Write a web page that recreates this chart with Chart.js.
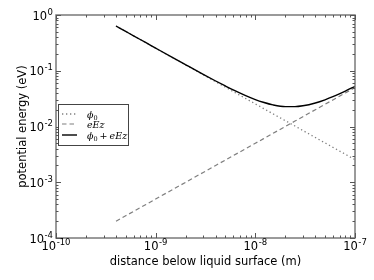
<!DOCTYPE html>
<html>
<head>
<meta charset="utf-8">
<script src="https://cdn.jsdelivr.net/npm/chart.js@4"></script>
<style>
html,body{margin:0;padding:0;background:#fff;}
#wrap{width:374px;height:280px;}
</style>
</head>
<body>
<div id="wrap"><canvas id="c" width="374" height="280"></canvas></div>
<script>
// distance below liquid surface (m)
const distance = [4e-10, 5e-10, 6e-10, 8e-10, 1e-9, 1.5e-9, 2e-9, 3e-9, 4e-9, 5e-9, 6e-9, 8e-9,
  1e-8, 1.2e-8, 1.5e-8, 2e-8, 2.5e-8, 3e-8, 4e-8, 5e-8, 6e-8, 8e-8, 1e-7];
// phi_0 (eV)
const phi0 = [0.635, 0.508, 0.423, 0.318, 0.254, 0.169, 0.127, 0.0847, 0.0635, 0.0508, 0.0423, 0.0318,
  0.0254, 0.0212, 0.0169, 0.0127, 0.0102, 0.00847, 0.00635, 0.00508, 0.00423, 0.00318, 0.00254];
// eEz (eV)
const eEz = [2.0e-4, 2.5e-4, 3.0e-4, 4.0e-4, 5.0e-4, 7.5e-4, 1.0e-3, 1.5e-3, 2.0e-3, 2.5e-3, 3.0e-3, 4.0e-3,
  5.0e-3, 6.0e-3, 7.5e-3, 0.010, 0.0125, 0.015, 0.020, 0.025, 0.030, 0.040, 0.050];
// phi_0 + eEz (eV)
const total = [0.6352, 0.5083, 0.4233, 0.3184, 0.2545, 0.1698, 0.128, 0.0862, 0.0655, 0.0533, 0.0453, 0.0358,
  0.0304, 0.0272, 0.0244, 0.0227, 0.0227, 0.0235, 0.0264, 0.0301, 0.0342, 0.0432, 0.0525];

const xTickExponents = [-10, -9, -8, -7];
const yTickExponents = [-4, -3, -2, -1, 0];
const xAxisTitle = 'distance below liquid surface (m)';
const yAxisTitle = 'potential energy (eV)';

function pts(ys){ return distance.map((x,i)=>({x:x, y:ys[i]})); }

const decorations = {
  id: 'decorations',
  afterDatasetsDraw(chart){
    const ctx = chart.ctx;
    const a = chart.chartArea;
    const xs = chart.scales.x, ys = chart.scales.y;
    ctx.save();
    // frame
    ctx.strokeStyle = '#7a7a7a';
    ctx.lineWidth = 1.5;
    ctx.strokeRect(a.left, a.top, a.right - a.left, a.bottom - a.top);
    // ticks
    ctx.strokeStyle = '#555';
    ctx.lineWidth = 1;
    ctx.beginPath();
    const xe = xTickExponents, ye = yTickExponents;
    for (let i = 0; i < xe.length; i++) {
      const muls = i < xe.length - 1 ? [1,2,3,4,5,6,7,8,9] : [1];
      muls.forEach(m => {
        const px = Math.round(xs.getPixelForValue(m * Math.pow(10, xe[i]))) + 0.5;
        const len = m === 1 ? 5 : 2.5;
        ctx.moveTo(px, a.bottom); ctx.lineTo(px, a.bottom - len);
        ctx.moveTo(px, a.top); ctx.lineTo(px, a.top + len);
      });
    }
    for (let i = 0; i < ye.length; i++) {
      const muls = i < ye.length - 1 ? [1,2,3,4,5,6,7,8,9] : [1];
      muls.forEach(m => {
        const py = Math.round(ys.getPixelForValue(m * Math.pow(10, ye[i]))) + 0.5;
        const len = m === 1 ? 5 : 2.5;
        ctx.moveTo(a.left, py); ctx.lineTo(a.left + len, py);
        ctx.moveTo(a.right, py); ctx.lineTo(a.right - len, py);
      });
    }
    ctx.stroke();

    // tick labels
    const baseFont = '11.5px "DejaVu Sans"';
    const supFont = '8.5px "DejaVu Sans"';
    ctx.fillStyle = '#000';
    ctx.textBaseline = 'alphabetic';
    function labelWidth(exp){
      ctx.font = baseFont; const w1 = ctx.measureText('10').width;
      ctx.font = supFont; const w2 = ctx.measureText('-' + Math.abs(exp)).width;
      return [w1, w2];
    }
    function drawLabel(exp, left, baseline){
      const [w1] = labelWidth(exp);
      ctx.textAlign = 'left';
      ctx.font = baseFont; ctx.fillText('10', left, baseline);
      ctx.font = supFont; ctx.fillText(exp < 0 ? '-' + Math.abs(exp) : String(exp), left + w1 + 0.5, baseline - 5);
    }
    xe.forEach(e => {
      const px = xs.getPixelForValue(Math.pow(10, e));
      const [w1, w2] = labelWidth(e);
      drawLabel(e, px - (w1 + w2 + 0.5) / 2, a.bottom + 12);
    });
    ye.forEach(e => {
      const py = ys.getPixelForValue(Math.pow(10, e));
      ctx.font = supFont;
      const s = e < 0 ? '-' + Math.abs(e) : String(e);
      const w2 = ctx.measureText(s).width;
      ctx.font = baseFont; const w1 = ctx.measureText('10').width;
      drawLabel(e, a.left - 3 - w2 - 0.5 - w1, py + 4.5);
    });

    // axis titles
    ctx.font = '11.5px "DejaVu Sans"';
    ctx.textAlign = 'center';
    ctx.fillText(xAxisTitle, (a.left + a.right) / 2, 265);
    ctx.save();
    ctx.translate(26, (a.top + a.bottom) / 2);
    ctx.rotate(-Math.PI / 2);
    ctx.fillText(yAxisTitle, 0, 0);
    ctx.restore();

    // legend
    const lx = 58, ly = 104, lw = 70, lh = 41;
    ctx.fillStyle = '#fff';
    ctx.fillRect(lx, ly, lw, lh);
    ctx.strokeStyle = '#444';
    ctx.lineWidth = 1;
    ctx.strokeRect(lx + 0.5, ly + 0.5, lw, lh);
    const rows = [
      {y: 114, ds: chart.data.datasets[1]},
      {y: 124, ds: chart.data.datasets[2]},
      {y: 135, ds: chart.data.datasets[0]}
    ];
    rows.forEach(r => {
      ctx.strokeStyle = r.ds.borderColor;
      ctx.lineWidth = r.ds.borderWidth;
      ctx.setLineDash(r.ds.borderDash || []);
      ctx.beginPath();
      ctx.moveTo(62, r.y); ctx.lineTo(77, r.y);
      ctx.stroke();
    });
    ctx.setLineDash([]);
    ctx.fillStyle = '#000';
    ctx.textAlign = 'left';
    const it = 'italic 9.5px "DejaVu Serif"';
    const sub = '6.5px "DejaVu Serif"';
    function phi(x, y){
      ctx.font = it; ctx.fillText('ϕ', x, y);
      const w = ctx.measureText('ϕ').width;
      ctx.font = sub; ctx.fillText('0', x + w, y + 2);
      return x + w + ctx.measureText('0').width;
    }
    phi(87, 117.5);
    ctx.font = it; ctx.fillText('eEz', 87, 127.5);
    let x2 = phi(87, 138.5);
    ctx.font = '9.5px "DejaVu Serif"'; ctx.fillText('+', x2 + 2, 138.5);
    x2 += 2 + ctx.measureText('+').width + 2;
    ctx.font = it; ctx.fillText('eEz', x2, 138.5);
    ctx.restore();
  }
};

new Chart(document.getElementById('c'), {
  type: 'line',
  data: {
    datasets: [
      {label: 'ϕ0 + eEz', data: pts(total), borderColor: '#000', borderWidth: 1.4, pointRadius: 0, cubicInterpolationMode: 'monotone', fill: false},
      {label: 'ϕ0', data: pts(phi0), borderColor: '#7f7f7f', borderWidth: 1.3, borderDash: [1.3, 2.7], pointRadius: 0, fill: false},
      {label: 'eEz', data: pts(eEz), borderColor: '#7f7f7f', borderWidth: 1.2, borderDash: [4.5, 3], pointRadius: 0, fill: false}
    ]
  },
  options: {
    responsive: false,
    animation: false,
    devicePixelRatio: 1,
    layout: {padding: {left: 56, right: 19, top: 15, bottom: 42}},
    plugins: {legend: {display: false}, tooltip: {enabled: false}},
    scales: {
      x: {type: 'logarithmic', min: 1e-10, max: 1e-7, display: false},
      y: {type: 'logarithmic', min: 1e-4, max: 1, display: false}
    }
  },
  plugins: [decorations]
});
</script>
</body>
</html>
